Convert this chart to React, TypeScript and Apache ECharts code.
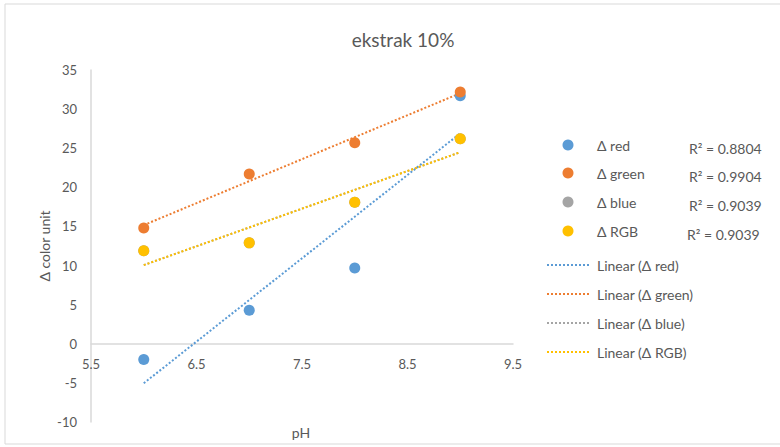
import React, { useEffect, useRef } from "react";
import * as echarts from "echarts";

// pH values (x) and the colour-unit change per channel
const phValues = [6, 7, 8, 9];
const deltaRed = [-2.0, 4.3, 9.7, 31.7];
const deltaGreen = [14.8, 21.7, 25.7, 32.2];
const deltaBlue = [11.9, 12.9, 18.1, 26.2];
const deltaRGB = [11.9, 12.9, 18.1, 26.2];

const seriesNames = ["Δ red", "Δ green", "Δ blue", "Δ RGB"];
const seriesColors = ["#5B9BD5", "#ED7D31", "#A5A5A5", "#FFC000"];
const rSquaredLabels = ["R² = 0.8804", "R² = 0.9904", "R² = 0.9039", "R² = 0.9039"];

const xTicks = [5.5, 6.5, 7.5, 8.5, 9.5];
const yTicks = [-10, -5, 0, 5, 10, 15, 20, 25, 30, 35];

const FONT = "Lato, 'Open Sans', sans-serif";
const TEXT_COLOR = "#595959";

// grid geometry
const GRID_LEFT = 91;
const GRID_TOP = 70;
const GRID_W = 422;
const GRID_H = 352;

// least-squares trend line evaluated at the first and last x
function linearFit(xs: number[], ys: number[]): number[][] {
  const n = xs.length;
  const mx = xs.reduce((a, b) => a + b, 0) / n;
  const my = ys.reduce((a, b) => a + b, 0) / n;
  let sxy = 0;
  let sxx = 0;
  for (let i = 0; i < n; i++) {
    sxy += (xs[i] - mx) * (ys[i] - my);
    sxx += (xs[i] - mx) * (xs[i] - mx);
  }
  const slope = sxy / sxx;
  const icpt = my - slope * mx;
  const x0 = xs[0];
  const x1 = xs[n - 1];
  return [
    [x0, icpt + slope * x0],
    [x1, icpt + slope * x1],
  ];
}

export default function App() {
  const ref = useRef<HTMLDivElement>(null);

  useEffect(() => {
    if (!ref.current) return;
    const chart = echarts.init(ref.current, null, { renderer: "svg" });
    const allValues = [deltaRed, deltaGreen, deltaBlue, deltaRGB];

    // the x axis crosses the y axis at 0: shift it up from the grid bottom
    const yMin = yTicks[0];
    const yMax = yTicks[yTicks.length - 1];
    const zeroOffset = -((0 - yMin) / (yMax - yMin)) * GRID_H;

    // blue is drawn before RGB so the RGB markers sit on top
    const order = [0, 1, 2, 3];
    const trendSeries = order.map((i) => ({
      name: "Linear (" + seriesNames[i] + ")",
      type: "line",
      data: linearFit(phValues, allValues[i]),
      symbol: "none",
      silent: true,
      z: 2,
      lineStyle: { color: seriesColors[i], width: 2, type: [2, 2] },
    }));
    const scatterSeries = order.map((i) => ({
      name: seriesNames[i],
      type: "scatter",
      data: phValues.map((x, k) => [x, allValues[i][k]]),
      symbolSize: 11,
      z: 3,
      itemStyle: { color: seriesColors[i], opacity: 1 },
    }));

    const legendGraphics: any[] = [];
    const markerRows = [145, 173, 202, 231];
    const lineRows = [265, 294, 323, 352];
    seriesNames.forEach((name, i) => {
      legendGraphics.push({
        type: "circle",
        shape: { cx: 568, cy: markerRows[i], r: 5.5 },
        style: { fill: seriesColors[i] },
      });
      legendGraphics.push({
        type: "text",
        x: 597,
        y: markerRows[i],
        style: {
          text: name,
          font: "14px " + FONT,
          fill: TEXT_COLOR,
          textVerticalAlign: "middle",
        },
      });
      legendGraphics.push({
        type: "text",
        x: i === 3 ? 687 : 689,
        y: markerRows[i] + 3,
        style: {
          text: rSquaredLabels[i],
          font: "14px " + FONT,
          fill: TEXT_COLOR,
          textVerticalAlign: "middle",
        },
      });
      legendGraphics.push({
        type: "line",
        shape: { x1: 547, y1: lineRows[i], x2: 590, y2: lineRows[i] },
        style: { stroke: seriesColors[i], lineWidth: 2, lineDash: [2, 2] },
      });
      legendGraphics.push({
        type: "text",
        x: 597,
        y: lineRows[i],
        style: {
          text: "Linear (" + name + ")",
          font: "14px " + FONT,
          fill: TEXT_COLOR,
          textVerticalAlign: "middle",
        },
      });
    });

    chart.setOption({
      animation: false,
      backgroundColor: "#ffffff",
      title: {
        text: "ekstrak 10%",
        left: 398,
        top: 25,
        textAlign: "center",
        textStyle: { fontFamily: FONT, fontSize: 19, fontWeight: "normal", color: TEXT_COLOR },
      },
      grid: {
        left: GRID_LEFT,
        top: GRID_TOP,
        width: GRID_W,
        height: GRID_H,
        outerBoundsMode: "none",
        containLabel: false,
      },
      xAxis: {
        type: "value",
        min: xTicks[0],
        max: xTicks[xTicks.length - 1],
        interval: 1,
        offset: zeroOffset,
        axisLine: { onZero: false, lineStyle: { color: "#D9D9D9", width: 1.5 } },
        axisTick: { show: false },
        splitLine: { show: false },
        axisLabel: {
          fontFamily: FONT,
          fontSize: 13,
          color: TEXT_COLOR,
          margin: 14,
          showMinLabel: true,
          showMaxLabel: true,
        },
      },
      yAxis: {
        type: "value",
        min: yMin,
        max: yMax,
        interval: 5,
        axisLine: { show: true, onZero: false, lineStyle: { color: "#D9D9D9", width: 1.5 } },
        axisTick: { show: false },
        splitLine: { show: false },
        axisLabel: { fontFamily: FONT, fontSize: 13, color: TEXT_COLOR, margin: 14 },
      },
      graphic: [
        {
          type: "rect",
          shape: { x: 5, y: 4, width: 800, height: 440 },
          style: { fill: "none", stroke: "#D9D9D9", lineWidth: 1 },
          silent: true,
          z: -1,
        },
        {
          type: "text",
          x: 301,
          y: 432,
          style: {
            text: "pH",
            font: "14px " + FONT,
            fill: TEXT_COLOR,
            textAlign: "center",
            textVerticalAlign: "middle",
          },
        },
        {
          type: "text",
          x: 44,
          y: 246,
          rotation: Math.PI / 2,
          style: {
            text: "Δ color unit",
            font: "14px " + FONT,
            fill: TEXT_COLOR,
            textAlign: "center",
            textVerticalAlign: "middle",
          },
        },
        ...legendGraphics,
      ],
      series: [...trendSeries, ...scatterSeries],
    });

    return () => chart.dispose();
  }, []);

  return (
    <div
      ref={ref}
      style={{ position: "fixed", left: 0, top: 0, width: 780, height: 447 }}
    />
  );
}
